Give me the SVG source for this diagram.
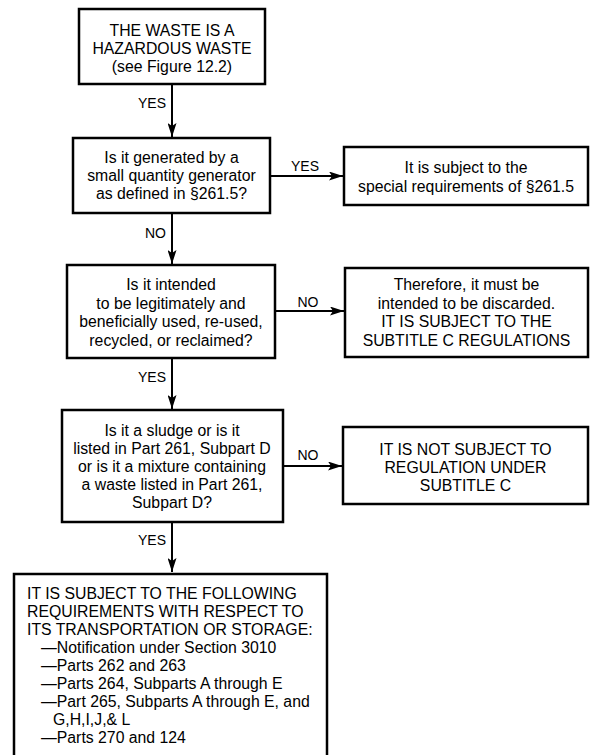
<svg xmlns="http://www.w3.org/2000/svg" width="590" height="755" viewBox="0 0 590 755">
<defs>
<marker id="ah" viewBox="0 0 14 9" refX="14" refY="4.5" markerWidth="14" markerHeight="9" markerUnits="userSpaceOnUse" orient="auto">
<path d="M0,0 L14,4.5 L0,9 L3,4.5 z" fill="#000"/>
</marker>
<style>
.box{fill:#fff;stroke:#000;stroke-width:2.5}
.t{font-family:"Liberation Sans",Arial,sans-serif;font-size:15.8px;fill:#000;text-anchor:middle}
.tl{font-family:"Liberation Sans",Arial,sans-serif;font-size:15.8px;fill:#000}
.lb{font-family:"Liberation Sans",Arial,sans-serif;font-size:14px;fill:#000}
.c{stroke:#000;stroke-width:2;fill:none;marker-end:url(#ah)}
</style>
</defs>
<rect width="590" height="755" fill="#fff"/>
<g id="connectors">
<line class="c" x1="172" y1="84" x2="172" y2="137"/>
<line class="c" x1="270" y1="176" x2="343" y2="176"/>
<line class="c" x1="172" y1="213" x2="172" y2="264"/>
<line class="c" x1="275" y1="311" x2="344" y2="311"/>
<line class="c" x1="172" y1="358" x2="172" y2="409"/>
<line class="c" x1="283" y1="466" x2="342" y2="466"/>
<line class="c" x1="172" y1="522" x2="172" y2="572"/>
<text class="lb" x="166" y="108" text-anchor="end">YES</text>
<text class="lb" x="305" y="171" text-anchor="middle">YES</text>
<text class="lb" x="166" y="238" text-anchor="end">NO</text>
<text class="lb" x="308" y="307" text-anchor="middle">NO</text>
<text class="lb" x="166" y="382" text-anchor="end">YES</text>
<text class="lb" x="308" y="460" text-anchor="middle">NO</text>
<text class="lb" x="166" y="545" text-anchor="end">YES</text>
</g>
<g id="hazardous">
<rect class="box" x="79" y="9" width="186" height="75"/>
<text class="t" x="172" y="35.5">THE WASTE IS A</text>
<text class="t" x="172" y="53.5">HAZARDOUS WASTE</text>
<text class="t" x="172" y="71.5">(see Figure 12.2)</text>
</g>
<g id="small-quantity">
<rect class="box" x="73" y="138" width="197" height="75"/>
<text class="t" x="171.5" y="162.5">Is it generated by a</text>
<text class="t" x="171.5" y="180.5">small quantity generator</text>
<text class="t" x="171.5" y="198.5">as defined in §261.5?</text>
</g>
<g id="special">
<rect class="box" x="344" y="147" width="244" height="58"/>
<text class="t" x="466" y="173">It is subject to the</text>
<text class="t" x="466" y="192">special requirements of §261.5</text>
</g>
<g id="intended">
<rect class="box" x="67" y="265" width="208" height="93"/>
<text class="t" x="171" y="290">Is it intended</text>
<text class="t" x="171" y="308.5">to be legitimately and</text>
<text class="t" x="171" y="327">beneficially used, re-used,</text>
<text class="t" x="171" y="345.5">recycled, or reclaimed?</text>
</g>
<g id="discarded">
<rect class="box" x="345" y="268" width="243" height="89"/>
<text class="t" x="466.5" y="290">Therefore, it must be</text>
<text class="t" x="466.5" y="308.5">intended to be discarded.</text>
<text class="t" x="466.5" y="327">IT IS SUBJECT TO THE</text>
<text class="t" x="466.5" y="345.5">SUBTITLE C REGULATIONS</text>
</g>
<g id="sludge">
<rect class="box" x="62" y="410" width="221" height="112"/>
<text class="t" x="172" y="435.5">Is it a sludge or is it</text>
<text class="t" x="172" y="453.5">listed in Part 261, Subpart D</text>
<text class="t" x="172" y="471.5">or is it a mixture containing</text>
<text class="t" x="172" y="489.5">a waste listed in Part 261,</text>
<text class="t" x="172" y="507.5">Subpart D?</text>
</g>
<g id="not-subject">
<rect class="box" x="343" y="427" width="245" height="77"/>
<text class="t" x="465.5" y="454.5">IT IS NOT SUBJECT TO</text>
<text class="t" x="465.5" y="472.5">REGULATION UNDER</text>
<text class="t" x="465.5" y="490.5">SUBTITLE C</text>
</g>
<g id="requirements">
<rect class="box" x="14" y="574" width="313" height="200"/>
<text class="tl" x="27" y="598.5">IT IS SUBJECT TO THE FOLLOWING</text>
<text class="tl" x="27" y="616.5">REQUIREMENTS WITH RESPECT TO</text>
<text class="tl" x="27" y="634.5">ITS TRANSPORTATION OR STORAGE:</text>
<text class="tl" x="41" y="652.5">—Notification under Section 3010</text>
<text class="tl" x="41" y="670.5">—Parts 262 and 263</text>
<text class="tl" x="41" y="688.5">—Parts 264, Subparts A through E</text>
<text class="tl" x="41" y="706.5">—Part 265, Subparts A through E, and</text>
<text class="tl" x="53" y="724.5">G,H,I,J,&amp; L</text>
<text class="tl" x="41" y="742.5">—Parts 270 and 124</text>
</g>
</svg>
